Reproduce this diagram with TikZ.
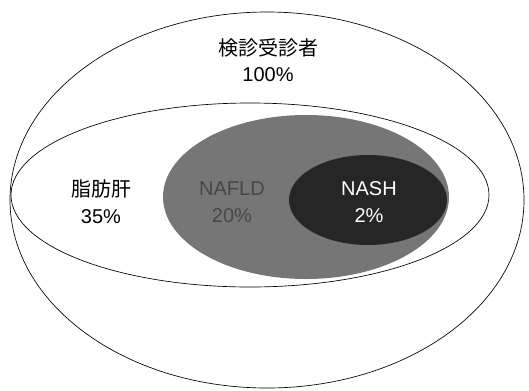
\documentclass[tikz,border=0pt]{standalone}
\usepackage{fontspec}
\setmainfont{Liberation Sans}
\newfontfamily\jpfont{Noto Sans CJK JP}
\definecolor{nafldgray}{RGB}{118,118,118}
\definecolor{nashblack}{RGB}{38,38,38}
\tikzset{
  lbl/.style={inner sep=0.75pt, align=center, font=\fontsize{15}{20}\selectfont},
}
\begin{document}
\begin{tikzpicture}[x=0.75pt,y=0.75pt,yscale=-1,xscale=1]
\useasboundingbox (0,0) rectangle (529,390);

%Shape: Ellipse (all examinees)
\draw [line width=0.5pt] (267,200) ellipse (257 and 188);
%Shape: Ellipse (fatty liver)
\draw [line width=0.5pt] (250,195) ellipse (239 and 92);
%Shape: Ellipse (NAFLD)
\fill [nafldgray] (306,197) ellipse (143 and 82);
%Shape: Ellipse (NASH)
\fill [nashblack] (368,200) ellipse (79 and 45);

% Text Node
\node (exam) [lbl] at (268,60) {{\jpfont 検診受診者}\\100\%};
% Text Node
\node (fatty) [lbl] at (101,202) {{\jpfont 脂肪肝}\\35\%};
% Text Node
\node (nafld) [lbl, text=black!72] at (232,202) {NAFLD\\20\%};
% Text Node
\node (nash) [lbl, text=white] at (369,202) {NASH\\2\%};

\end{tikzpicture}
\end{document}
